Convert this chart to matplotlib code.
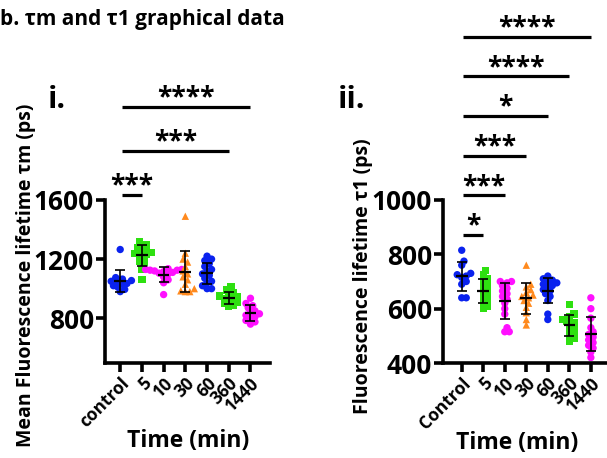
import numpy as np
import matplotlib
matplotlib.use("Agg")
import matplotlib.pyplot as plt

plt.rcParams['font.family'] = ['Open Sans', 'DejaVu Sans']
plt.rcParams['font.weight'] = 'bold'

### Data
### ----
groups_i = ['control', '5', '10', '30', '60', '360', '1440']
groups_ii = ['Control', '5', '10', '30', '60', '360', '1440']

# tau_m (ps), panel i
tm_control = [1265, 1075, 1065, 1055, 1050, 1045, 1035, 1030, 1020, 1010, 995, 980]
tm_5 = [1320, 1300, 1290, 1280, 1265, 1255, 1245, 1240, 1230, 1220, 1200, 1185, 1160, 1130, 1060]
tm_10 = [1135, 1130, 1130, 1125, 1125, 1120, 1115, 1110, 1105, 1100, 1080, 1060, 1040, 960]
tm_30 = [1490, 1240, 1200, 1180, 1150, 1120, 1100, 1080, 1060, 1030, 1000, 985, 980, 980]
tm_60 = [1220, 1200, 1190, 1170, 1150, 1130, 1120, 1100, 1090, 1070, 1050, 1040, 1020, 1000, 1000]
tm_360 = [1015, 990, 975, 960, 950, 945, 935, 930, 920, 910, 900, 890, 880]
tm_1440 = [935, 900, 885, 870, 850, 840, 830, 820, 810, 800, 785, 775, 760]

# tau_1 (ps), panel ii
t1_control = [815, 775, 760, 730, 725, 720, 715, 700, 690, 640, 640]
t1_5 = [740, 725, 710, 700, 690, 680, 670, 660, 650, 640, 630, 620, 610, 600]
t1_10 = [700, 700, 695, 685, 675, 665, 655, 645, 635, 620, 600, 580, 530, 515, 515]
t1_30 = [760, 690, 680, 670, 660, 650, 645, 640, 630, 620, 605, 585, 560, 540]
t1_60 = [720, 710, 705, 700, 695, 690, 685, 680, 670, 665, 655, 645, 630, 580, 560]
t1_360 = [615, 580, 570, 560, 555, 550, 540, 530, 520, 510, 500, 490, 480]
t1_1440 = [640, 600, 565, 530, 515, 505, 495, 485, 475, 465, 455, 440, 420]

# significance vs control: (compared group index, stars)
sig_i = [(1, '***'), (5, '***'), (6, '****')]
sig_ii = [(1, '*'), (2, '***'), (3, '***'), (4, '*'), (5, '****'), (6, '****')]

### Style
### -----
colors = ['#0a22ee', '#2ee010', '#ff10ff', '#ff8a1e', '#0a22ee', '#2ee010', '#ff10ff']
markers = ['o', 's', 'o', '^', 'o', 's', 'o']
LW = 2.6


### Beeswarm offsets (pixel based, no randomness)
### ---------------------------------------------
def swarm_x(ax, xc, vals, d=4.5):
    pts = ax.transData.transform(np.column_stack([np.full(len(vals), xc), vals]))
    x0 = pts[0, 0]
    ys = pts[:, 1]
    placed = []
    xs = np.zeros(len(vals))
    for i in np.argsort(ys):
        for k in range(60):
            off = 0.0 if k == 0 else ((k + 1) // 2) * 0.5 * d * (1 if k % 2 else -1)
            if all((off - px) ** 2 + (ys[i] - py) ** 2 >= d ** 2 for px, py in placed):
                placed.append((off, ys[i]))
                xs[i] = off
                break
    inv = ax.transData.inverted()
    return inv.transform(np.column_stack([x0 + xs, ys]))[:, 0]


def panel(ax, data, labels, xlim, ylim, yticks, sig, sig_y0, sig_dy, ylabel):
    ax.set_xlim(*xlim)
    ax.set_ylim(*ylim)
    for i, vals in enumerate(data):
        xs = swarm_x(ax, i, vals)
        ax.scatter(xs, vals, s=28, marker=markers[i], color=colors[i],
                   edgecolors='none', zorder=2, clip_on=False)
        m, sd = np.mean(vals), np.std(vals, ddof=1)
        ax.hlines(m, i - 0.27, i + 0.27, color='k', lw=1.6, zorder=3)
        ax.errorbar(i, m, yerr=sd, color='k', lw=1.2, capsize=3.5,
                    capthick=1.2, zorder=3)

    ### Axes decoration
    for s in ['top', 'right']:
        ax.spines[s].set_visible(False)
    ax.spines['left'].set_linewidth(LW)
    ax.spines['bottom'].set_linewidth(LW)
    ax.spines['left'].set_bounds(ylim[0], yticks[-1])
    ax.set_yticks(yticks)
    ax.set_yticklabels([str(t) for t in yticks], fontsize=19, fontweight='bold')
    ax.set_xticks(range(len(labels)))
    ax.set_xticklabels(labels, rotation=45, ha='right', rotation_mode='anchor',
                       fontsize=12.5, fontweight='bold')
    ax.tick_params(axis='both', width=LW, length=6.5, pad=1.5)
    ax.set_xlabel('Time (min)', fontsize=16.5, fontweight='bold')
    ax.set_ylabel(ylabel, fontsize=14, fontweight='bold')

    ### Significance bars
    for k, (j, stars) in enumerate(sig):
        y = sig_y0 + k * sig_dy
        ax.plot([0.08, j], [y, y], color='k', lw=2.3, clip_on=False,
                solid_capstyle='butt')
        ax.annotate(stars, xy=(j / 2 + 0.04, y), xytext=(0, 1),
                    textcoords='offset points', ha='center', va='baseline',
                    fontsize=19, fontweight='bold', annotation_clip=False)


fig = plt.figure(figsize=(6.07, 4.58), dpi=100)
W, H = 607.0, 458.0

ax1 = fig.add_axes([105 / W, 1 - 363 / H, 165 / W, 163 / H])
ax2 = fig.add_axes([443 / W, 1 - 363 / H, 164 / W, 163 / H])

panel(ax1, [tm_control, tm_5, tm_10, tm_30, tm_60, tm_360, tm_1440], groups_i,
      (-0.7, 6.9), (497, 1600), [800, 1200, 1600], sig_i, 1634, 298,
      'Mean Fluorescence lifetime τm (ps)')
panel(ax2, [t1_control, t1_5, t1_10, t1_30, t1_60, t1_360, t1_1440], groups_ii,
      (-0.87, 6.75), (400, 1000), [400, 600, 800, 1000], sig_ii, 871, 146,
      'Fluorescence lifetime τ1 (ps)')

### Label placement (figure pixels)
ax1.yaxis.set_label_coords(36 / W, 1 - 275 / H, transform=fig.transFigure)
ax2.yaxis.set_label_coords(373 / W, 1 - 276 / H, transform=fig.transFigure)
ax1.xaxis.set_label_coords(188 / W, 1 - 429 / H, transform=fig.transFigure)
ax2.xaxis.set_label_coords(517 / W, 1 - 431 / H, transform=fig.transFigure)

fig.text(48 / W, 1 - 108 / H, 'i.', fontsize=22, fontweight='bold', va='baseline')
fig.text(338 / W, 1 - 108 / H, 'ii.', fontsize=22, fontweight='bold', va='baseline')
fig.text(0.0, 1 - 20 / H, 'b. τm and τ1 graphical data', fontsize=15,
         fontweight='bold', ha='left', va='center')

fig.savefig('out.png', dpi=100)
